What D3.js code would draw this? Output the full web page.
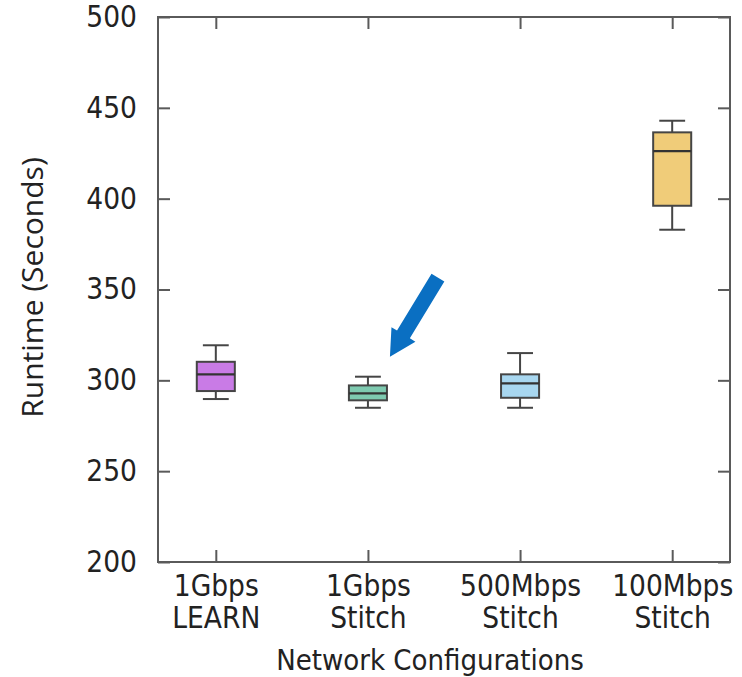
<!DOCTYPE html>
<html>
<head>
<meta charset="utf-8">
<script src="https://cdn.jsdelivr.net/npm/d3@7"></script>
<style>
  html, body { margin: 0; padding: 0; background: #fff; }
  svg { display: block; }
</style>
</head>
<body>
<svg id="chart" width="742" height="677"></svg>
<script>
// Runtime distribution per network configuration
const categories = ["1Gbps\nLEARN", "1Gbps\nStitch", "500Mbps\nStitch", "100Mbps\nStitch"];
const whiskerLow  = [289.7, 284.9, 284.9, 382.9];
const quartile1   = [294.1, 289.0, 290.4, 396.1];
const medians     = [303.3, 292.8, 298.3, 426.2];
const quartile3   = [310.2, 297.2, 303.3, 436.5];
const whiskerHigh = [319.3, 302.0, 315.0, 442.9];
const boxColors   = ["#c97be6", "#7ecab0", "#a8d7f0", "#f0cc79"];
const yTicks      = [200, 250, 300, 350, 400, 450, 500];

const svg = d3.select("#chart");
const plot = { left: 158, right: 730, top: 17, bottom: 562 };

const x = d3.scalePoint()
  .domain(d3.range(categories.length))
  .range([plot.left, plot.right])
  .padding(0.38);

const y = d3.scaleLinear()
  .domain([200, 500])
  .range([plot.bottom, plot.top]);

const axisColor = "#5a5a5a";
const textColor = "#222";
const tickLen = 12;
const tickFont = "'DejaVu Sans Condensed', 'DejaVu Sans', sans-serif";

// Frame
svg.append("rect")
  .attr("x", plot.left).attr("y", plot.top)
  .attr("width", plot.right - plot.left)
  .attr("height", plot.bottom - plot.top)
  .attr("fill", "none")
  .attr("stroke", axisColor)
  .attr("stroke-width", 2);

// Left axis with inward ticks
const yAxisL = svg.append("g")
  .attr("transform", `translate(${plot.left},0)`)
  .call(d3.axisLeft(y).tickValues(yTicks).tickSizeInner(-tickLen).tickSizeOuter(0).tickPadding(tickLen + 9));
yAxisL.select(".domain").remove();
yAxisL.selectAll(".tick line").attr("stroke", axisColor).attr("stroke-width", 2);
yAxisL.selectAll(".tick text")
  .attr("fill", textColor)
  .style("font-family", tickFont)
  .style("font-stretch", "condensed")
  .style("font-size", "29.5px");

// Right-side mirrored ticks
const yAxisR = svg.append("g")
  .attr("transform", `translate(${plot.right},0)`)
  .call(d3.axisRight(y).tickValues(yTicks).tickSizeInner(-tickLen).tickSizeOuter(0).tickFormat(""));
yAxisR.select(".domain").remove();
yAxisR.selectAll(".tick line").attr("stroke", axisColor).attr("stroke-width", 2);

// Bottom axis with inward ticks and two-line labels
const xAxisB = svg.append("g")
  .attr("transform", `translate(0,${plot.bottom})`)
  .call(d3.axisBottom(x).tickSizeInner(-tickLen).tickSizeOuter(0).tickFormat(""));
xAxisB.select(".domain").remove();
xAxisB.selectAll(".tick line").attr("stroke", axisColor).attr("stroke-width", 2);
xAxisB.selectAll(".tick").each(function(d) {
  const lines = categories[d].split("\n");
  const t = d3.select(this).append("text")
    .attr("fill", textColor)
    .attr("text-anchor", "middle")
    .style("font-family", tickFont)
    .style("font-stretch", "condensed")
    .style("font-size", "29.5px");
  lines.forEach((ln, i) => {
    t.append("tspan").attr("x", 0).attr("y", 34 + i * 32).text(ln);
  });
});

// Top mirrored ticks
const xAxisT = svg.append("g")
  .attr("transform", `translate(0,${plot.top})`)
  .call(d3.axisTop(x).tickSizeInner(-tickLen).tickSizeOuter(0).tickFormat(""));
xAxisT.select(".domain").remove();
xAxisT.selectAll(".tick line").attr("stroke", axisColor).attr("stroke-width", 2);

// Axis titles
svg.append("text")
  .attr("x", (plot.left + plot.right) / 2 - 14)
  .attr("y", 670)
  .attr("text-anchor", "middle")
  .attr("fill", textColor)
  .style("font-family", tickFont)
  .style("font-stretch", "condensed")
  .style("font-size", "29px")
  .text("Network Configurations");

svg.append("text")
  .attr("transform", `translate(43,${(plot.top + plot.bottom) / 2 - 2}) rotate(-90)`)
  .attr("text-anchor", "middle")
  .attr("fill", textColor)
  .style("font-family", "'Open Sans', sans-serif")
  .style("font-size", "30px")
  .text("Runtime (Seconds)");

// Box plots
const boxW = x.step() * 0.25;
const capW = x.step() * 0.17;
const stroke = "#454545";

const boxes = svg.append("g").selectAll("g")
  .data(d3.range(categories.length))
  .join("g");

boxes.append("line")
  .attr("x1", i => x(i)).attr("x2", i => x(i))
  .attr("y1", i => y(whiskerHigh[i])).attr("y2", i => y(quartile3[i]))
  .attr("stroke", stroke).attr("stroke-width", 2);
boxes.append("line")
  .attr("x1", i => x(i)).attr("x2", i => x(i))
  .attr("y1", i => y(quartile1[i])).attr("y2", i => y(whiskerLow[i]))
  .attr("stroke", stroke).attr("stroke-width", 2);
boxes.append("line")
  .attr("x1", i => x(i) - capW / 2).attr("x2", i => x(i) + capW / 2)
  .attr("y1", i => y(whiskerHigh[i])).attr("y2", i => y(whiskerHigh[i]))
  .attr("stroke", stroke).attr("stroke-width", 2);
boxes.append("line")
  .attr("x1", i => x(i) - capW / 2).attr("x2", i => x(i) + capW / 2)
  .attr("y1", i => y(whiskerLow[i])).attr("y2", i => y(whiskerLow[i]))
  .attr("stroke", stroke).attr("stroke-width", 2);
boxes.append("rect")
  .attr("x", i => x(i) - boxW / 2)
  .attr("y", i => y(quartile3[i]))
  .attr("width", boxW)
  .attr("height", i => y(quartile1[i]) - y(quartile3[i]))
  .attr("fill", i => boxColors[i])
  .attr("stroke", stroke).attr("stroke-width", 2);
boxes.append("line")
  .attr("x1", i => x(i) - boxW / 2).attr("x2", i => x(i) + boxW / 2)
  .attr("y1", i => y(medians[i])).attr("y2", i => y(medians[i]))
  .attr("stroke", "#333").attr("stroke-width", 2.2);

// Callout arrow pointing at the 1Gbps Stitch box
const target = 1;
const tip = [x(target) + 22, y(whiskerHigh[target]) - 20];
const tail = [tip[0] + 48, tip[1] - 79];
const ang = Math.atan2(tip[1] - tail[1], tip[0] - tail[0]);
const len = Math.hypot(tip[0] - tail[0], tip[1] - tail[1]);
const shaftHalf = 7.5, headHalf = 14, headLen = 26;
const arrowPts = [
  [0, -shaftHalf], [len - headLen, -shaftHalf], [len - headLen, -headHalf],
  [len, 0],
  [len - headLen, headHalf], [len - headLen, shaftHalf], [0, shaftHalf]
];
svg.append("polygon")
  .attr("points", arrowPts.map(p => p.join(",")).join(" "))
  .attr("transform", `translate(${tail[0]},${tail[1]}) rotate(${ang * 180 / Math.PI})`)
  .attr("fill", "#0a6fc2");
</script>
</body>
</html>
